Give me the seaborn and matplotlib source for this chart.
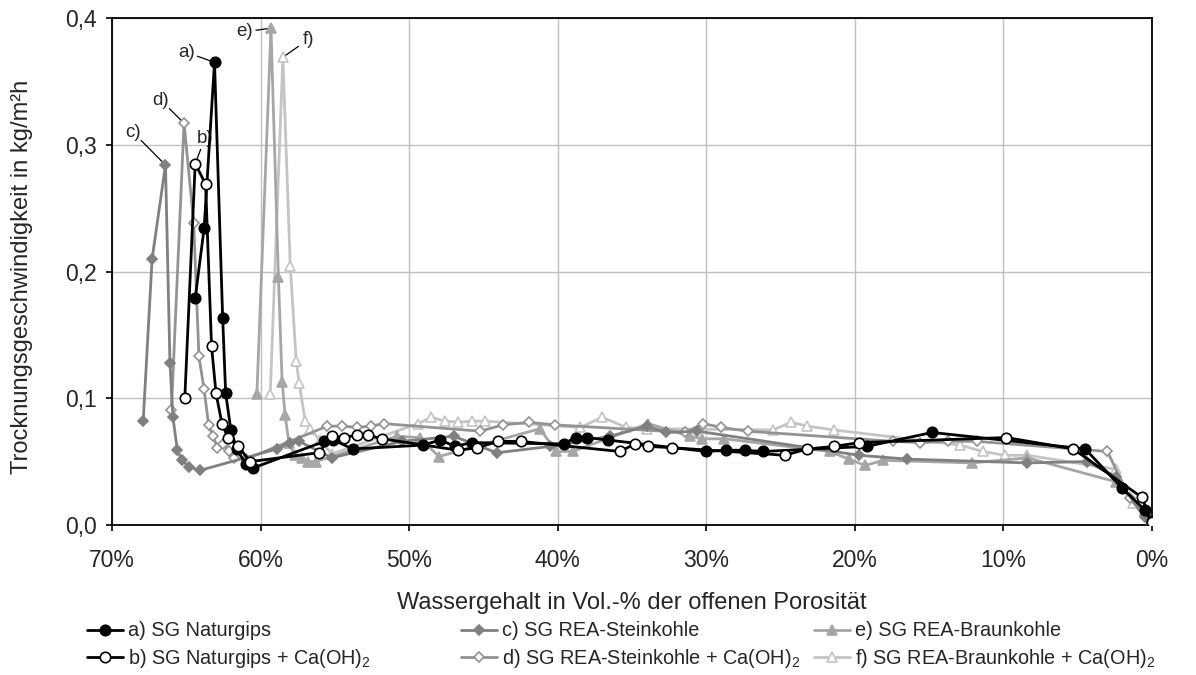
import numpy as np
import pandas as pd
import matplotlib
matplotlib.use("Agg")
import matplotlib.pyplot as plt
import seaborn as sns

# ---------------- data ----------------
a_x = [64.4, 63.8, 63.1, 62.55, 62.35, 62.0, 61.6, 61.0, 60.5, 55.7, 55.1, 53.8, 49.1, 47.9, 46.9, 45.8,
       39.6, 38.8, 38.0, 36.6, 30.0, 28.7, 27.4, 26.2, 19.2, 14.8, 4.5, 2.0, 0.5, 0.0]
a_y = [0.179, 0.234, 0.365, 0.163, 0.104, 0.075, 0.060, 0.048, 0.045, 0.066, 0.067, 0.060, 0.063, 0.067, 0.062, 0.065,
       0.064, 0.069, 0.069, 0.067, 0.058, 0.059, 0.059, 0.058, 0.062, 0.073, 0.060, 0.029, 0.012, 0.002]

b_x = [65.1, 64.4, 63.7, 63.3, 63.0, 62.6, 62.2, 61.5, 60.7, 56.1, 55.2, 54.4, 53.5, 52.8, 51.8, 46.7, 45.4,
       44.0, 42.5, 35.8, 34.8, 33.9, 32.3, 24.7, 23.2, 21.4, 19.7, 9.8, 5.3, 0.7, 0.0]
b_y = [0.100, 0.285, 0.269, 0.141, 0.104, 0.080, 0.069, 0.062, 0.050, 0.057, 0.070, 0.069, 0.071, 0.071, 0.068, 0.059, 0.061,
       0.066, 0.066, 0.058, 0.064, 0.062, 0.061, 0.055, 0.060, 0.062, 0.065, 0.069, 0.060, 0.022, 0.002]

c_x = [67.9, 67.3, 66.4, 66.1, 65.9, 65.6, 65.3, 64.8, 64.1, 58.9, 58.0, 57.4, 55.2, 50.5, 47.0, 44.1, 40.5,
       36.5, 34.0, 32.7, 30.6, 19.7, 16.5, 8.4, 4.4, 2.4, 0.5, 0.0]
c_y = [0.082, 0.210, 0.284, 0.128, 0.085, 0.059, 0.051, 0.046, 0.043, 0.060, 0.065, 0.066, 0.053, 0.066, 0.070, 0.057, 0.062,
       0.070, 0.078, 0.073, 0.074, 0.055, 0.052, 0.049, 0.050, 0.038, 0.006, 0.001]

d_x = [66.0, 65.15, 64.5, 64.15, 63.8, 63.5, 63.2, 62.9, 62.5, 62.1, 61.8, 61.0, 55.5, 54.5, 53.5, 52.6, 51.7,
       45.2, 43.7, 41.9, 40.2, 31.4, 30.2, 29.0, 27.2, 17.4, 15.6, 13.7, 11.8, 3.0, 1.5, 0.5, 0.0]
d_y = [0.091, 0.317, 0.238, 0.133, 0.107, 0.079, 0.070, 0.061, 0.064, 0.058, 0.053, 0.052, 0.078, 0.078, 0.077, 0.078, 0.080,
       0.074, 0.079, 0.081, 0.079, 0.073, 0.080, 0.077, 0.074, 0.066, 0.065, 0.066, 0.066, 0.058, 0.021, 0.008, 0.001]

e_x = [60.25, 59.3, 58.8, 58.55, 58.35, 58.1, 57.7, 57.2, 56.8, 56.3, 50.8, 49.3, 48.0, 41.2, 40.1, 39.0,
       33.9, 31.1, 30.3, 28.8, 21.7, 20.4, 19.3, 18.1, 12.1, 8.4, 2.4, 0.0]
e_y = [0.103, 0.392, 0.196, 0.113, 0.087, 0.065, 0.055, 0.053, 0.050, 0.050, 0.070, 0.069, 0.054, 0.076, 0.058, 0.058,
       0.080, 0.070, 0.068, 0.068, 0.058, 0.052, 0.047, 0.051, 0.049, 0.053, 0.034, 0.001]

f_x = [59.35, 58.5, 58.0, 57.6, 57.4, 57.0, 56.7, 56.0, 55.2, 49.4, 48.5, 47.6, 46.7, 45.8, 44.9, 38.5, 37.0,
       35.4, 34.0, 25.5, 24.3, 23.2, 21.4, 12.9, 11.4, 9.9, 8.4, 2.4, 1.3, 0.0]
f_y = [0.103, 0.369, 0.204, 0.129, 0.112, 0.082, 0.076, 0.067, 0.056, 0.080, 0.085, 0.082, 0.081, 0.082, 0.082, 0.077, 0.085,
       0.077, 0.076, 0.075, 0.081, 0.078, 0.075, 0.063, 0.058, 0.055, 0.055, 0.044, 0.017, 0.001]

series_names = ["a) SG Naturgips", "b) SG Naturgips + Ca(OH)$_2$",
                "c) SG REA-Steinkohle", "d) SG REA-Steinkohle + Ca(OH)$_2$",
                "e) SG REA-Braunkohle", "f) SG REA-Braunkohle + Ca(OH)$_2$"]
short_labels = ["a)", "b)", "c)", "d)", "e)", "f)"]
x_ticks = [70, 60, 50, 40, 30, 20, 10, 0]
y_ticks = [0.0, 0.1, 0.2, 0.3, 0.4]

xs = [a_x, b_x, c_x, d_x, e_x, f_x]
ys = [a_y, b_y, c_y, d_y, e_y, f_y]
frames = []
for name, xv, yv in zip(series_names, xs, ys):
    frames.append(pd.DataFrame({"x": xv, "y": yv, "series": name}))
df = pd.concat(frames, ignore_index=True)

# ---------------- style ----------------
sns.set_theme(style="white")
plt.rcParams["font.family"] = ["Liberation Sans", "DejaVu Sans"]
plt.rcParams["mathtext.fontset"] = "custom"
plt.rcParams["mathtext.rm"] = "Liberation Sans"
plt.rcParams["mathtext.it"] = "Liberation Sans"

styles = {
    series_names[0]: dict(color="#000000", marker="o", ms=7.5, mfc="#000000", mec="#000000", z=6),
    series_names[1]: dict(color="#000000", marker="o", ms=7.5, mfc="#ffffff", mec="#000000", z=7),
    series_names[2]: dict(color="#808080", marker="D", ms=5.2, mfc="#808080", mec="#808080", z=5),
    series_names[3]: dict(color="#939393", marker="D", ms=5.2, mfc="#ffffff", mec="#939393", z=4),
    series_names[4]: dict(color="#a6a6a6", marker="^", ms=6.5, mfc="#a6a6a6", mec="#a6a6a6", z=3),
    series_names[5]: dict(color="#c4c4c4", marker="^", ms=6.5, mfc="#ffffff", mec="#c4c4c4", z=2),
}

W, H = 1196, 675
fig = plt.figure(figsize=(W / 100, H / 100), dpi=100)
ax_l, ax_r, ax_t, ax_b = 112, 1152, 18, 525
ax = fig.add_axes([ax_l / W, 1 - ax_b / H, (ax_r - ax_l) / W, (ax_b - ax_t) / H])

for name in series_names:
    st = styles[name]
    sub = df[df["series"] == name]
    sns.lineplot(data=sub, x="x", y="y", sort=False, estimator=None, ax=ax,
                 color=st["color"], linewidth=2.0, marker=st["marker"], markersize=st["ms"],
                 markerfacecolor=st["mfc"], markeredgecolor=st["mec"], markeredgewidth=1.2,
                 label=name, zorder=st["z"])

ax.set_xlim(70, 0)
ax.set_ylim(0, 0.4)
ax.set_xticks(x_ticks)
ax.set_xticklabels([f"{t}%" for t in x_ticks])
ax.set_yticks(y_ticks)
ax.set_yticklabels([f"{t:.1f}".replace(".", ",") for t in y_ticks])
ax.grid(True, color="#c0c0c0", linewidth=1.0)
ax.set_axisbelow(True)
for sp in ax.spines.values():
    sp.set_color("black")
    sp.set_linewidth(1.3)
ax.tick_params(axis="both", which="major", labelsize=16.5, length=4, width=1.2,
               direction="out", color="black", bottom=True, left=True)
ax.tick_params(axis="x", pad=13)
ax.tick_params(axis="y", pad=7)
ax.set_xlabel("Wassergehalt in Vol.-% der offenen Porosität", fontsize=17, va="center")
ax.set_ylabel("Trocknungsgeschwindigkeit in kg/m²h", fontsize=17, va="center")
ax.xaxis.set_label_coords(0.5, -(603 - ax_b) / (ax_b - ax_t))
ax.yaxis.set_label_coords(-(ax_l - 22) / (ax_r - ax_l), 0.49)

# peak annotations (text centre positions in data units)
text_pos = [(65.0, 0.373), (63.75, 0.305), (68.6, 0.310), (66.7, 0.335), (61.1, 0.389), (56.8, 0.383)]
for lab, xv, yv, tp in zip(short_labels, xs, ys, text_pos):
    i = int(np.argmax(yv))
    ax.annotate(lab, xy=(xv[i], yv[i]), xytext=tp, fontsize=13.5, ha="center", va="center",
                arrowprops=dict(arrowstyle="-", color="black", lw=0.9, patchA=None,
                                shrinkA=8.5, shrinkB=2),
                zorder=1.5)

handles, labels = ax.get_legend_handles_labels()
ax.get_legend().remove()
col_x = [87, 461, 814]
row_y = [631, 658]
for k, (h, l) in enumerate(zip(handles, labels)):
    cx = col_x[k // 2]
    ry = row_y[k % 2]
    fig.legend([h], [l], loc="center left", bbox_to_anchor=(cx / W, 1 - ry / H),
               frameon=False, fontsize=14.3, handlelength=1.8, handletextpad=0.25,
               borderpad=0, borderaxespad=0)

fig.savefig("out.png", dpi=100)
